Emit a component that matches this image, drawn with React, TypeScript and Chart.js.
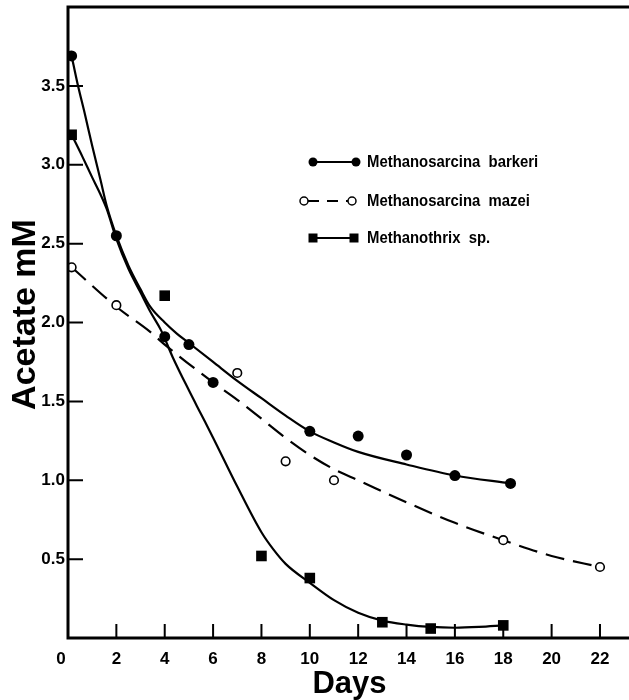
import React, { useEffect, useRef } from 'react';
import { Chart, registerables } from 'chart.js';

Chart.register(...registerables);

const FONT = "'Liberation Sans', Arial, Helvetica, sans-serif";
const W = 629;
const H = 700;

// Measured points
const barkeriDays = [0.15, 2, 4, 5, 6, 10, 12, 14, 16, 18.3];
const barkeriAcetate = [3.69, 2.55, 1.91, 1.86, 1.62, 1.31, 1.28, 1.16, 1.03, 0.98];
const mazeiDays = [0.15, 2, 7, 9, 11, 18, 22];
const mazeiAcetate = [2.35, 2.11, 1.68, 1.12, 1.0, 0.62, 0.45];
const thrixDays = [0.15, 4, 8, 10, 13, 15, 18];
const thrixAcetate = [3.19, 2.17, 0.52, 0.38, 0.1, 0.06, 0.08];

// Fitted curves
const barkeriFitDays = [0.15, 0.4, 0.7, 1.0, 1.35, 1.6, 2.0, 2.5, 3.0, 3.4, 4.0, 4.5, 5, 6, 7, 8, 9, 10, 11, 12, 14, 16, 18.3];
const barkeriFitAcetate = [3.69, 3.51, 3.32, 3.12, 2.9, 2.74, 2.55, 2.36, 2.21, 2.1, 2.0, 1.93, 1.87, 1.75, 1.63, 1.52, 1.41, 1.31, 1.24, 1.18, 1.1, 1.03, 0.98];
const mazeiFitDays = [0.15, 2, 3.4, 4, 6, 7, 8, 8.9, 10, 11, 12, 14, 16, 18, 20, 22];
const mazeiFitAcetate = [2.35, 2.1, 1.94, 1.86, 1.62, 1.51, 1.39, 1.28, 1.16, 1.07, 1.0, 0.86, 0.73, 0.62, 0.52, 0.45];
const thrixFitDays = [0.15, 0.6, 1.0, 1.35, 1.6, 2.0, 2.5, 3.0, 3.4, 3.85, 4.33, 5, 5.5, 6, 7, 8, 8.5, 9, 10, 11, 12, 13, 14, 15, 16, 17, 18];
const thrixFitAcetate = [3.19, 3.05, 2.92, 2.81, 2.72, 2.53, 2.34, 2.19, 2.07, 1.95, 1.78, 1.57, 1.42, 1.27, 0.96, 0.67, 0.56, 0.47, 0.35, 0.24, 0.16, 0.11, 0.085, 0.07, 0.065, 0.07, 0.08];

// Axes
const xTickValues = [0, 2, 4, 6, 8, 10, 12, 14, 16, 18, 20, 22];
const xTickLabels = ['0', '2', '4', '6', '8', '10', '12', '14', '16', '18', '20', '22'];
const yTickValues = [0.5, 1.0, 1.5, 2.0, 2.5, 3.0, 3.5];
const yTickLabels = ['0.5', '1.0', '1.5', '2.0', '2.5', '3.0', '3.5'];
const xTitle = 'Days';
const yTitle = 'Acetate mM';
const seriesNames = ['Methanosarcina  barkeri', 'Methanosarcina  mazei', 'Methanothrix  sp.'];

const toPoints = (xs: number[], ys: number[]) => xs.map((x, i) => ({ x, y: ys[i] }));

const decorPlugin = {
  id: 'decor',
  afterDatasetsDraw(chart: any) {
    const { ctx, chartArea: a, scales } = chart;
    const xs = scales.x;
    const ys = scales.y;
    ctx.save();
    ctx.strokeStyle = '#000';
    ctx.fillStyle = '#000';
    ctx.lineWidth = 3;
    ctx.beginPath();
    ctx.moveTo(a.right + 2, a.top);
    ctx.lineTo(a.left, a.top);
    ctx.lineTo(a.left, a.bottom);
    ctx.lineTo(a.right + 2, a.bottom);
    ctx.stroke();

    ctx.lineWidth = 2;
    ctx.beginPath();
    yTickValues.forEach((v) => {
      const p = ys.getPixelForValue(v);
      ctx.moveTo(a.left, p);
      ctx.lineTo(a.left + 15, p);
    });
    xTickValues.forEach((v) => {
      if (v === 0) return;
      const p = xs.getPixelForValue(v);
      ctx.moveTo(p, a.bottom);
      ctx.lineTo(p, a.bottom - 14);
    });
    ctx.stroke();

    ctx.font = `bold 17px ${FONT}`;
    ctx.textAlign = 'center';
    ctx.textBaseline = 'middle';
    ctx.fillText(xTickLabels[0], xs.getPixelForValue(0) - 7, a.bottom + 21);

    ctx.font = `bold 31px ${FONT}`;
    ctx.textBaseline = 'alphabetic';
    ctx.fillText(xTitle, (a.left + a.right) / 2 + 1, a.bottom + 55);

    ctx.save();
    ctx.translate(35, (a.top + a.bottom) / 2 - 8);
    ctx.rotate(-Math.PI / 2);
    ctx.font = `bold 34px ${FONT}`;
    ctx.fillText(yTitle, 0, 0);
    ctx.restore();

    // Legend
    const rows = [
      { y: 162, x1: 313, x2: 356, kind: 'disc' },
      { y: 201, x1: 304, x2: 352, kind: 'ring' },
      { y: 238, x1: 313, x2: 354, kind: 'square' },
    ];
    rows.forEach((r, i) => {
      ctx.lineWidth = 2;
      ctx.beginPath();
      if (r.kind === 'ring') {
        ctx.setLineDash([11, 8]);
        ctx.moveTo(r.x1 + 4, r.y);
        ctx.lineTo(r.x2 - 4, r.y);
      } else {
        ctx.setLineDash([]);
        ctx.moveTo(r.x1, r.y);
        ctx.lineTo(r.x2, r.y);
      }
      ctx.stroke();
      ctx.setLineDash([]);
      [r.x1, r.x2].forEach((mx) => {
        ctx.beginPath();
        if (r.kind === 'disc') {
          ctx.arc(mx, r.y, 4.5, 0, Math.PI * 2);
          ctx.fill();
        } else if (r.kind === 'ring') {
          ctx.arc(mx, r.y, 4, 0, Math.PI * 2);
          ctx.fillStyle = '#fff';
          ctx.fill();
          ctx.lineWidth = 1.5;
          ctx.stroke();
          ctx.fillStyle = '#000';
        } else {
          ctx.rect(mx - 4.5, r.y - 4.5, 9, 9);
          ctx.fill();
        }
      });
      ctx.save();
      ctx.translate(367, r.y + 1);
      ctx.scale(0.93, 1);
      ctx.font = `bold 16px ${FONT}`;
      ctx.textAlign = 'left';
      ctx.textBaseline = 'middle';
      ctx.fillText(seriesNames[i], 0, 0);
      ctx.restore();
    });
    ctx.restore();
  },
};

export default function App() {
  const ref = useRef<HTMLCanvasElement | null>(null);
  useEffect(() => {
    if (!ref.current) return;
    const chart = new Chart(ref.current, {
      type: 'scatter',
      data: {
        datasets: [
          {
            label: seriesNames[0],
            data: toPoints(barkeriDays, barkeriAcetate),
            showLine: false,
            pointStyle: 'circle',
            pointRadius: 5.5,
            pointBackgroundColor: '#000',
            pointBorderColor: '#000',
            pointBorderWidth: 0,
          },
          {
            label: seriesNames[1],
            data: toPoints(mazeiDays, mazeiAcetate),
            showLine: false,
            pointStyle: 'circle',
            pointRadius: 4.3,
            pointBackgroundColor: '#fff',
            pointBorderColor: '#000',
            pointBorderWidth: 1.6,
          },
          {
            label: seriesNames[2],
            data: toPoints(thrixDays, thrixAcetate),
            showLine: false,
            pointStyle: 'rect',
            pointRadius: 7.5,
            pointBackgroundColor: '#000',
            pointBorderColor: '#000',
            pointBorderWidth: 0,
          },
          {
            label: 'fit barkeri',
            data: toPoints(barkeriFitDays, barkeriFitAcetate),
            showLine: true,
            pointRadius: 0,
            borderColor: '#000',
            borderWidth: 2.2,
            cubicInterpolationMode: 'monotone',
          },
          {
            label: 'fit mazei',
            data: toPoints(mazeiFitDays, mazeiFitAcetate),
            showLine: true,
            pointRadius: 0,
            borderColor: '#000',
            borderWidth: 2.2,
            borderDash: [19, 9],
            cubicInterpolationMode: 'monotone',
          },
          {
            label: 'fit thrix',
            data: toPoints(thrixFitDays, thrixFitAcetate),
            showLine: true,
            pointRadius: 0,
            borderColor: '#000',
            borderWidth: 2.2,
            cubicInterpolationMode: 'monotone',
          },
        ],
      },
      options: {
        animation: false,
        responsive: false,
        maintainAspectRatio: false,
        devicePixelRatio: 1,
        events: [],
        layout: { autoPadding: false, padding: { top: 7, left: 0, right: 0, bottom: 0 } },
        plugins: { legend: { display: false }, tooltip: { enabled: false } },
        scales: {
          x: {
            type: 'linear',
            min: 0,
            max: 23.2,
            grid: { display: false, drawTicks: false },
            border: { display: false },
            afterBuildTicks: (s: any) => {
              s.ticks = xTickValues.map((v) => ({ value: v }));
            },
            afterFit: (s: any) => {
              s.height = 62;
              s.paddingLeft = 0;
              s.paddingRight = 0;
            },
            ticks: {
              autoSkip: false,
              maxRotation: 0,
              padding: 11,
              color: '#000',
              font: { family: FONT, size: 17, weight: 'bold' },
              callback: (_v: any, i: number) => (i === 0 ? '' : xTickLabels[i]),
            },
          },
          y: {
            type: 'linear',
            min: 0,
            max: 4.0,
            grid: { display: false, drawTicks: false },
            border: { display: false },
            afterBuildTicks: (s: any) => {
              s.ticks = yTickValues.map((v) => ({ value: v }));
            },
            afterFit: (s: any) => {
              s.width = 68;
              s.paddingTop = 0;
              s.paddingBottom = 0;
            },
            ticks: {
              autoSkip: false,
              padding: 3,
              color: '#000',
              font: { family: FONT, size: 17, weight: 'bold' },
              callback: (_v: any, i: number) => yTickLabels[i],
            },
          },
        },
      },
      plugins: [decorPlugin],
    });
    return () => chart.destroy();
  }, []);

  return (
    <div style={{ position: 'absolute', left: 0, top: 0, width: W, height: H, background: '#fff' }}>
      <canvas ref={ref} width={W} height={H} style={{ width: W, height: H, display: 'block' }} />
    </div>
  );
}
